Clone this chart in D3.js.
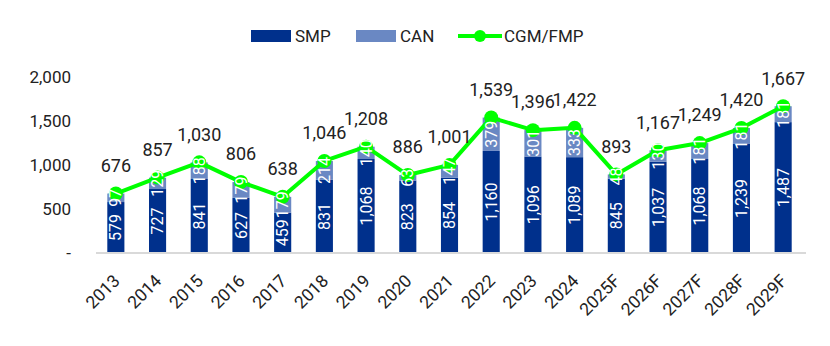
<!DOCTYPE html>
<html><head><meta charset="utf-8">
<script src="https://cdn.jsdelivr.net/npm/d3@7"></script>
<style>body{margin:0;background:#fff}svg{display:block}text{font-family:Roboto,"Noto Sans",sans-serif}</style>
</head><body><svg id="c" width="830" height="346"></svg>
<script>
const categories = ["2013","2014","2015","2016","2017","2018","2019","2020","2021","2022","2023","2024","2025F","2026F","2027F","2028F","2029F"];
const smp = [579,727,841,627,459,831,1068,823,854,1160,1096,1089,845,1037,1068,1239,1487];
const can = [97,129,188,179,179,214,140,63,147,379,301,333,48,130,181,181,181];
const cgm = [676,857,1030,806,638,1046,1208,886,1001,1539,1396,1422,893,1167,1249,1420,1667];
const yTicks = [0,500,1000,1500,2000];
const seriesNames = ["SMP","CAN","CGM/FMP"];
const colors = {SMP:"#00308C", CAN:"#6A88C3", CGM:"#00FF00"};

const svg = d3.select("#c");
const x = d3.scaleBand().domain(categories).range([95,804]).paddingInner(0.59).paddingOuter(0.295);
const y = d3.scaleLinear().domain([0,2000]).range([253,77]);
const fmt = d3.format(",");

// y axis labels
const ya = svg.append("g").attr("transform","translate(71,0)")
  .call(d3.axisLeft(y).tickValues(yTicks).tickSize(0).tickPadding(0).tickFormat(d=>d===0?"-":fmt(d)));
ya.select(".domain").remove();
ya.selectAll("text").attr("font-size",17).attr("fill","#222").attr("font-family","Roboto");

// bars
const g = svg.append("g");
g.selectAll(".smp").data(categories).join("rect")
  .attr("x",d=>x(d)).attr("width",x.bandwidth())
  .attr("y",(d,i)=>y(smp[i])).attr("height",(d,i)=>y(0)-y(smp[i])).attr("fill",colors.SMP);
g.selectAll(".can").data(categories).join("rect")
  .attr("x",d=>x(d)).attr("width",x.bandwidth())
  .attr("y",(d,i)=>y(smp[i]+can[i])).attr("height",(d,i)=>y(smp[i])-y(smp[i]+can[i])).attr("fill",colors.CAN);

// x axis
const xa = svg.append("g").attr("transform","translate(0,253)")
  .call(d3.axisBottom(x).tickSize(0).tickPadding(0));
xa.select(".domain").attr("stroke","#d9d9d9").attr("stroke-width",2).attr("d","M96,0H806");
xa.selectAll("text").attr("font-size",17.5).attr("fill","#222")
  .attr("text-anchor","end").attr("dy",null).attr("y",null)
  .attr("transform","translate(5,29) rotate(-45)");

const cx = d=>x(d)+x.bandwidth()/2;

// line
const line = d3.line().x(d=>cx(d)).y((d,i)=>y(cgm[i]));
svg.append("path").datum(categories).attr("d",line).attr("fill","none")
  .attr("stroke",colors.CGM).attr("stroke-width",4).attr("stroke-linejoin","round");
svg.selectAll(".pt").data(categories).join("circle")
  .attr("cx",cx).attr("cy",(d,i)=>y(cgm[i])).attr("r",7).attr("fill",colors.CGM);

// bar labels (on top of line, as in reference)
const bl = svg.append("g");
bl.selectAll(".smpl").data(categories).join("text")
  .attr("transform",(d,i)=>`translate(${cx(d)},${(y(0)+y(smp[i]))/2}) rotate(-90)`)
  .attr("text-anchor","middle").attr("dy","0.35em").attr("font-size",16).attr("fill","#fff")
  .text((d,i)=>fmt(smp[i]));
bl.selectAll(".canl").data(categories).join("text")
  .attr("transform",(d,i)=>`translate(${cx(d)},${(y(smp[i])+y(smp[i]+can[i]))/2}) rotate(-90)`)
  .attr("text-anchor","middle").attr("dy","0.35em").attr("font-size",16).attr("fill","#fff")
  .text((d,i)=>fmt(can[i]));

svg.selectAll(".ptl").data(categories).join("text")
  .attr("x",cx).attr("y",(d,i)=>y(cgm[i])-28).attr("dy","0.35em")
  .attr("text-anchor","middle").attr("font-size",18).attr("fill","#222")
  .text((d,i)=>fmt(cgm[i]));

// legend
const lg = svg.append("g");
lg.append("rect").attr("x",251).attr("y",30).attr("width",40).attr("height",12).attr("fill",colors.SMP);
lg.append("text").attr("x",295).attr("y",36).attr("dy","0.35em").attr("font-size",17).attr("fill","#222").text(seriesNames[0]);
lg.append("rect").attr("x",356).attr("y",30).attr("width",40).attr("height",12).attr("fill",colors.CAN);
lg.append("text").attr("x",400).attr("y",36).attr("dy","0.35em").attr("font-size",17).attr("fill","#222").text(seriesNames[1]);
lg.append("line").attr("x1",458).attr("x2",502).attr("y1",36).attr("y2",36).attr("stroke",colors.CGM).attr("stroke-width",4);
lg.append("circle").attr("cx",480).attr("cy",36).attr("r",6).attr("fill",colors.CGM);
lg.append("text").attr("x",504).attr("y",36).attr("dy","0.35em").attr("font-size",17).attr("fill","#222").text(seriesNames[2]);
</script></body></html>
